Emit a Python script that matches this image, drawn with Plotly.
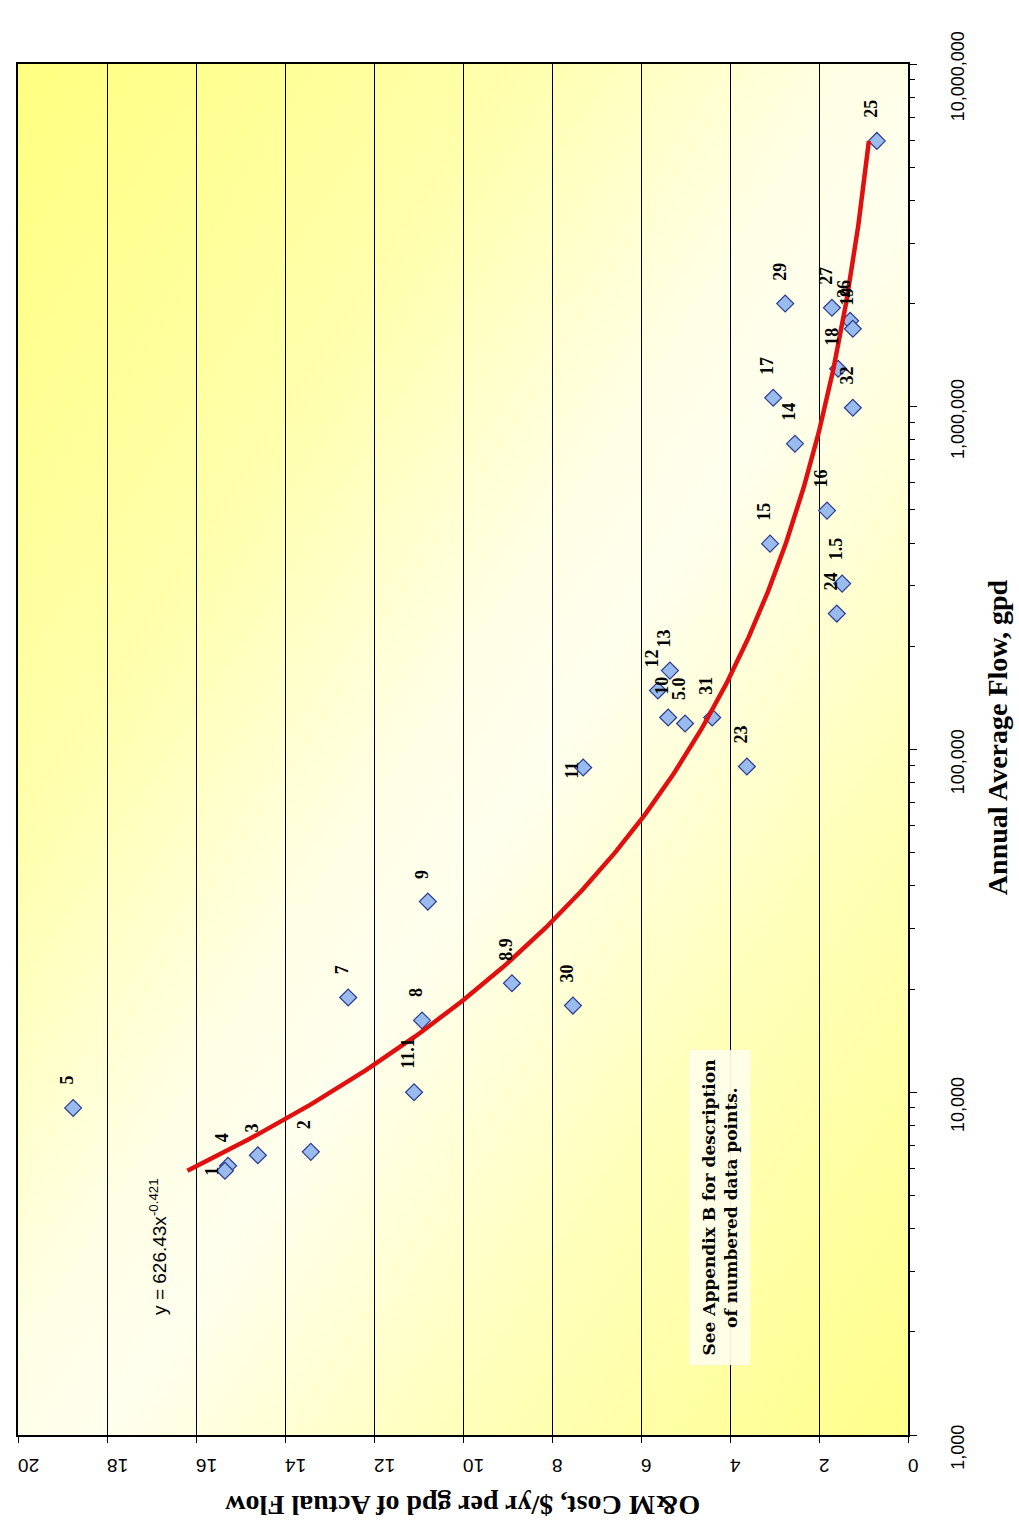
import base64
import numpy as np
import plotly.graph_objects as go

# ---- data: numbered treatment plants ----
point_labels = ["5", "4", "1", "3", "2", "7", "11.1", "8", "9", "8.9", "30", "11",
                "23", "31", "5.0", "10", "12", "13", "15", "16", "24", "1.5", "14",
                "17", "32", "29", "27", "26", "19", "18", "25"]
flow_gpd = [9000, 6100, 5900, 6550, 6700, 18900, 10000, 16200, 36000, 20800, 17900,
            88600, 89200, 124000, 119100, 124000, 148600, 169900, 398700, 497700,
            249200, 304800, 780200, 1062000, 993400, 2000000, 1944000, 1781000,
            1688000, 1291000, 5965000]
om_cost = [18.76, 15.28, 15.35, 14.61, 13.42, 12.58, 11.10, 10.92, 10.79, 8.90, 7.53,
           7.30, 3.62, 4.40, 5.01, 5.39, 5.62, 5.35, 3.10, 1.82, 1.60, 1.48, 2.54,
           3.03, 1.24, 2.76, 1.71, 1.30, 1.24, 1.57, 0.70]

# power-law trendline y = a * x^b
fit_a = 626.43
fit_b = -0.421

flow_tick_vals = [1000, 10000, 100000, 1000000, 10000000]
flow_tick_text = ["1,000", "10,000", "100,000", "1,000,000", "10,000,000"]

# ---- styling ----
SERIF = "Liberation Serif, Times New Roman, serif"
SANS = "Liberation Sans, Arial, sans-serif"

fig = go.Figure()

# background gradient: yellow corners fading to white along the anti-diagonal
svg = (
    '<svg xmlns="http://www.w3.org/2000/svg" width="100" height="100" '
    'viewBox="0 0 100 100" preserveAspectRatio="none">'
    '<defs><linearGradient id="g" x1="0" y1="0" x2="1" y2="1">'
    '<stop offset="0" stop-color="#FFFF80"/>'
    '<stop offset="0.28" stop-color="#FFFFAC"/>'
    '<stop offset="0.47" stop-color="#FFFFE6"/>'
    '<stop offset="0.55" stop-color="#FFFFEE"/>'
    '<stop offset="0.74" stop-color="#FFFFBC"/>'
    '<stop offset="1" stop-color="#FFFF8A"/>'
    '</linearGradient></defs>'
    '<rect width="100" height="100" fill="url(#g)"/></svg>'
)
bg_uri = "data:image/svg+xml;base64," + base64.b64encode(svg.encode()).decode()

fig.add_trace(go.Scatter(
    x=om_cost, y=flow_gpd, mode="markers",
    marker=dict(symbol="diamond", size=13, color="#99BBEE",
                line=dict(color="#2A3A8C", width=1.2)),
    showlegend=False, hoverinfo="skip",
))

# trendline over the span of the data
fx = np.logspace(np.log10(min(flow_gpd)), np.log10(max(flow_gpd)), 300)
fy = fit_a * fx ** fit_b
fig.add_trace(go.Scatter(
    x=fy, y=fx, mode="lines",
    line=dict(color="#E01010", width=4.5),
    showlegend=False, hoverinfo="skip",
))

# point number labels (rotated with the chart)
label_shift = {"1": (-13, 0, "middle"), "11": (-12, -3, "middle")}
annotations = []
for lab, fl, c in zip(point_labels, flow_gpd, om_cost):
    dx, dy, ya = label_shift.get(lab, (-6, 21, "bottom"))
    annotations.append(dict(
        x=c, y=np.log10(fl), xref="x", yref="y", text=f"<b>{lab}</b>",
        showarrow=False, textangle=-90, xanchor="center", yanchor=ya,
        xshift=dx, yshift=dy,
        font=dict(family=SERIF, size=18, color="black"),
    ))

# trendline equation
annotations.append(dict(
    x=0.157, y=0.137, xref="paper", yref="paper", showarrow=False, textangle=-90,
    xanchor="center", yanchor="middle",
    text=f"y = {fit_a}x<sup>{fit_b}</sup>",
    font=dict(family=SANS, size=19, color="black"),
))

# note box
annotations.append(dict(
    x=0.789, y=0.166, xref="paper", yref="paper", showarrow=False, textangle=-90,
    xanchor="center", yanchor="middle",
    text="<b>See Appendix B for description<br>of numbered data points.</b>",
    font=dict(family="DejaVu Serif, serif", size=17, color="black"),
    bgcolor="rgba(255,255,236,0.92)", borderpad=9,
))

# axis titles
annotations.append(dict(
    x=1.1, y=0.509, xref="paper", yref="paper", showarrow=False, textangle=-90,
    xanchor="center", yanchor="middle",
    text="<b>Annual Average Flow, gpd</b>",
    font=dict(family=SERIF, size=28, color="black"),
))
annotations.append(dict(
    x=0.499, y=-0.051, xref="paper", yref="paper", showarrow=False, textangle=180,
    xanchor="center", yanchor="middle",
    text="<b>O&amp;M Cost, $/yr per gpd of Actual Flow</b>",
    font=dict(family=SERIF, size=28, color="black"),
))

pad = "\u00a0" * 6
fig.update_layout(
    width=1019, height=1529,
    margin=dict(l=18, r=111, t=64, b=94),
    paper_bgcolor="white", plot_bgcolor="white",
    images=[dict(source=bg_uri, xref="paper", yref="paper", x=0, y=1,
                 sizex=1, sizey=1, sizing="stretch", layer="below",
                 xanchor="left", yanchor="top")],
    annotations=annotations,
    xaxis=dict(
        range=[20, 0], dtick=2, tick0=0, side="bottom",
        showgrid=True, gridcolor="black", gridwidth=1,
        showline=True, linecolor="black", linewidth=1.5, mirror=True,
        ticks="outside", ticklen=6, tickcolor="black",
        tickangle=180, ticklabelstandoff=12,
        tickfont=dict(family=SANS, size=19, color="black"),
        zeroline=False, automargin=False,
    ),
    yaxis=dict(
        type="log", range=[3, 7], side="right",
        tickmode="array", tickvals=flow_tick_vals,
        ticktext=[t + pad for t in flow_tick_text],
        showgrid=False,
        showline=True, linecolor="black", linewidth=1.5, mirror=True,
        ticks="outside", ticklen=7, tickcolor="black",
        tickangle=-90, ticklabelstandoff=26,
        tickfont=dict(family=SANS, size=18, color="black"),
        minor=dict(ticks="outside", ticklen=5, tickcolor="black", dtick="D1",
                   showgrid=False),
        zeroline=False, automargin=False,
    ),
)

fig.write_html("out.html")
